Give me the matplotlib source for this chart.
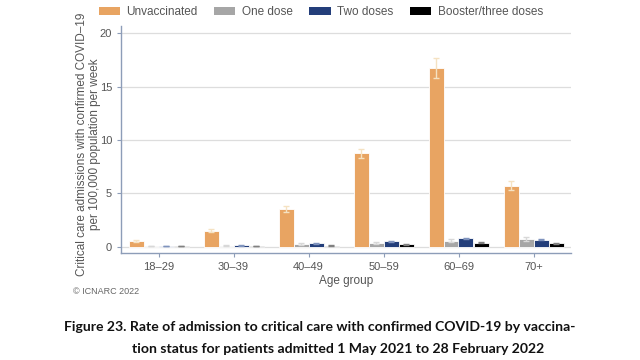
import matplotlib
matplotlib.use("Agg")
import matplotlib.pyplot as plt
import numpy as np
from matplotlib.patches import Patch

plt.rcParams['font.family'] = ['Liberation Sans', 'DejaVu Sans']

age_groups = ["18–29", "30–39", "40–49", "50–59", "60–69", "70+"]
series = ["Unvaccinated", "One dose", "Two doses", "Booster/three doses"]
unvacc = [0.53, 1.50, 3.53, 8.75, 16.72, 5.69]
unvacc_lo = [0.47, 1.40, 3.28, 8.31, 15.78, 5.28]
unvacc_hi = [0.60, 1.62, 3.78, 9.19, 17.66, 6.13]
one_dose = [0.05, 0.10, 0.25, 0.35, 0.57, 0.72]
one_lo = [0.03, 0.07, 0.18, 0.27, 0.47, 0.55]
one_hi = [0.08, 0.14, 0.33, 0.45, 0.68, 0.92]
two_doses = [0.08, 0.12, 0.30, 0.50, 0.79, 0.66]
two_lo = [0.06, 0.10, 0.26, 0.45, 0.73, 0.60]
two_hi = [0.10, 0.15, 0.34, 0.55, 0.85, 0.72]
booster = [0.07, 0.08, 0.10, 0.20, 0.38, 0.32]
boost_lo = [0.05, 0.06, 0.08, 0.17, 0.34, 0.28]
boost_hi = [0.09, 0.10, 0.12, 0.23, 0.42, 0.36]

vals = [unvacc, one_dose, two_doses, booster]
los = [unvacc_lo, one_lo, two_lo, boost_lo]
his = [unvacc_hi, one_hi, two_hi, boost_hi]
colors = ["#E8A462", "#A6A6A6", "#233E7A", "#000000"]
ecolors = ["#F5E2C2", "#D8D8D8", "#7F93BD", "#808080"]

fig = plt.figure(figsize=(6.4, 3.6), dpi=100)
ax = fig.add_axes([121/640, 1-253/360, 450/640, 227/360])

x = np.arange(len(age_groups))
w = 0.2
for i in range(4):
    pos = x + (i - 1.5) * w
    v = np.array(vals[i]); lo = np.array(los[i]); hi = np.array(his[i])
    ax.bar(pos, v, width=w, color=colors[i], edgecolor="white", linewidth=0.6, zorder=2)
    ax.errorbar(pos, v, yerr=[v - lo, hi - v], fmt="none", ecolor=ecolors[i],
                elinewidth=1.0, capsize=2.5, capthick=1.0, zorder=3)

ax.set_xlim(-0.5, 5.5)
ax.set_ylim(-0.6, 20.7)
ax.set_yticks([0, 5, 10, 15, 20])
ax.set_xticks(x)
ax.set_xticklabels(age_groups)
ax.yaxis.grid(True, color="#DDDDDD", linewidth=0.9, zorder=0)
ax.set_axisbelow(True)
for s in ["top", "right"]:
    ax.spines[s].set_visible(False)
spc = "#8D9DB8"
for s in ["left", "bottom"]:
    ax.spines[s].set_color(spc)
    ax.spines[s].set_linewidth(1.0)
ax.tick_params(axis="both", colors=spc, labelcolor="#555555", labelsize=8, length=3, width=0.8)
ax.set_xlabel("Age group", fontsize=8.5, color="#555555", labelpad=2)
ax.set_ylabel("Critical care admissions with confirmed COVID–19\nper 100,000 population per week",
              fontsize=8.5, color="#555555", linespacing=1.05)
ax.yaxis.set_label_coords(-0.045, 0.48)

handles = [Patch(facecolor=c, edgecolor="none") for c in colors]
fig.legend(handles, series, loc="center left", bbox_to_anchor=(88/640, 1-12/360), ncol=4,
           frameon=False, fontsize=8.5, handlelength=1.8, handleheight=0.7,
           columnspacing=1.4, handletextpad=0.55, labelcolor="#555555")

fig.text(73/640, 1-292/360, "© ICNARC 2022", fontsize=6.5, color="#666666", va="center")

fig.text(320/640, 1-327/360,
         "Figure 23. Rate of admission to critical care with confirmed COVID-19 by vaccina-",
         fontsize=10.1, fontweight="bold", family=["Lato", "DejaVu Sans"], ha="center", va="center", color="#111111")
fig.text(338/640, 1-349/360,
         "tion status for patients admitted 1 May 2021 to 28 February 2022",
         fontsize=10.1, fontweight="bold", family=["Lato", "DejaVu Sans"], ha="center", va="center", color="#111111")

fig.savefig("out.png", dpi=100)
